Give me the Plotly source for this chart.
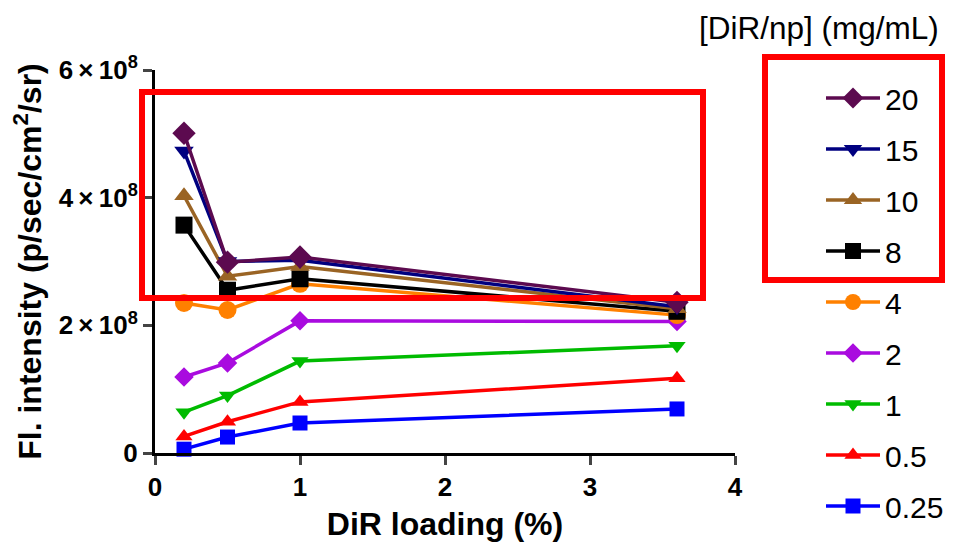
import plotly.graph_objects as go

loading = [0.2, 0.5, 1.0, 3.6]

conc_labels = ["20", "15", "10", "8", "4", "2", "1", "0.5", "0.25"]
v20 = [501e6, 299e6, 307e6, 236e6]
v15 = [473e6, 300e6, 302e6, 229e6]
v10 = [403e6, 277e6, 292e6, 226e6]
v8 = [357e6, 255e6, 273e6, 222e6]
v4 = [235e6, 224e6, 265e6, 216e6]
v2 = [119e6, 141e6, 207e6, 206e6]
v1 = [64e6, 90e6, 144e6, 168e6]
v05 = [26e6, 49e6, 80e6, 117e6]
v025 = [6e6, 25e6, 47e6, 69e6]
series = [v20, v15, v10, v8, v4, v2, v1, v05, v025]

colors = ["#5C0A4F", "#000080", "#9A6424", "#000000", "#FF8000",
          "#A90BDF", "#00BB00", "#FF0000", "#0000FF"]
symbols = ["diamond", "triangle-down", "triangle-up", "square", "circle",
           "diamond", "triangle-down", "triangle-up", "square"]
msizes = [18, 17, 17, 17, 18, 15, 15, 15, 15]

y_tickvals = [0, 2e8, 4e8, 6e8]
y_ticktext = ["0", "2\u2009×\u200910<sup>8</sup>", "4\u2009×\u200910<sup>8</sup>",
              "6\u2009×\u200910<sup>8</sup>"]
x_tickvals = [0, 1, 2, 3, 4]

FONT = "Liberation Sans, Arial, sans-serif"

fig = go.Figure()
# draw lowest concentration first so high ones are on top
for i in reversed(range(len(series))):
    fig.add_trace(go.Scatter(
        x=loading, y=series[i], name=conc_labels[i],
        mode="lines+markers",
        line=dict(color=colors[i], width=3.5),
        marker=dict(symbol=symbols[i], size=msizes[i], color=colors[i],
                    line=dict(width=0)),
        legendgroup=conc_labels[i], legendrank=i + 1,
        cliponaxis=False,
    ))

fig.update_layout(
    width=953, height=550,
    margin=dict(l=155, r=218, t=70, b=97),
    paper_bgcolor="white", plot_bgcolor="white",
    font=dict(family=FONT, color="black"),
    showlegend=True,
    legend=dict(
        xref="container", yref="container",
        x=821 / 953, y=1 - 72 / 550, xanchor="left", yanchor="top",
        traceorder="grouped", tracegroupgap=9, maxheight=600,
        font=dict(family=FONT, size=30, color="black"),
        bgcolor="rgba(0,0,0,0)", itemwidth=54,
    ),
    xaxis=dict(
        range=[0, 4], tickvals=x_tickvals, ticks="outside", ticklen=9, tickwidth=3,
        showline=True, linewidth=3, linecolor="black", showgrid=False, zeroline=False,
        tickfont=dict(family=FONT, size=26, weight="bold"),
        title=dict(text="DiR loading (%)", font=dict(family=FONT, size=32, weight="bold"),
                   standoff=12),
    ),
    yaxis=dict(
        range=[0, 6e8], tickvals=y_tickvals, ticktext=y_ticktext, ticks="outside",
        ticklen=9, tickwidth=3,
        showline=True, linewidth=3, linecolor="black", showgrid=False, zeroline=False,
        tickfont=dict(family=FONT, size=26, weight="bold"),
        title=dict(text="Fl. intensity (p/sec/cm<sup>2</sup>/sr)",
                   font=dict(family=FONT, size=32, weight="bold"), standoff=8),
    ),
    shapes=[
        dict(type="rect", xref="paper", yref="paper",
             x0=(142 - 155) / 580, x1=(703 - 155) / 580,
             y0=(453 - 298) / 383, y1=(453 - 92) / 383,
             line=dict(color="#FF0000", width=6)),
        dict(type="rect", xref="paper", yref="paper",
             x0=(765 - 155) / 580, x1=(942 - 155) / 580,
             y0=(453 - 280) / 383, y1=(453 - 57) / 383,
             line=dict(color="#FF0000", width=6)),
    ],
    annotations=[
        dict(text="[DiR/np] (mg/mL)", xref="paper", yref="paper",
             x=(819 - 155) / 580, y=(453 - 28) / 383, showarrow=False,
             xanchor="center", yanchor="middle",
             font=dict(family=FONT, size=31.5, color="black")),
    ],
)

fig.write_html("out.html")
